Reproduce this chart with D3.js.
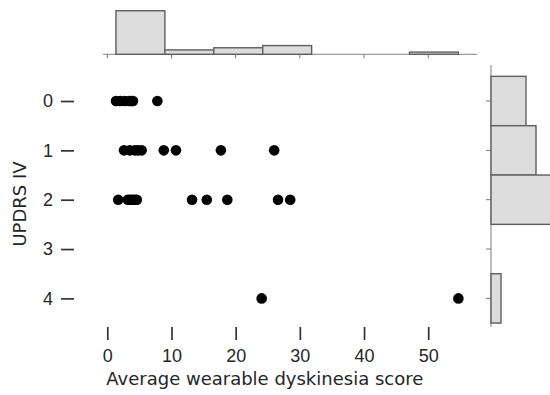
<!DOCTYPE html>
<html>
<head>
<meta charset="utf-8">
<script src="https://cdn.jsdelivr.net/npm/d3@7"></script>
<style>
  html, body { margin: 0; padding: 0; background: #fff; }
  svg { display: block; font-family: "DejaVu Sans", sans-serif; }
</style>
</head>
<body>
<svg id="chart" width="550" height="395"></svg>
<script>
// UPDRS IV score levels and the tick values of both axes
const updrsLevels = [0, 1, 2, 3, 4];
const scoreTicks = [0, 10, 20, 30, 40, 50];

// Average wearable dyskinesia score of each subject, grouped by UPDRS IV level
const scoresUpdrs0 = [1.35, 2.0, 2.7, 3.4, 3.8, 4.0, 7.8];
const scoresUpdrs1 = [2.6, 3.5, 4.3, 4.8, 5.35, 8.8, 10.7, 17.7, 26.0];
const scoresUpdrs2 = [1.7, 3.2, 3.5, 3.8, 4.1, 4.4, 4.6, 13.2, 15.5, 18.7, 26.6, 28.5];
const scoresUpdrs3 = [];
const scoresUpdrs4 = [24.05, 54.7];

// Marginal histogram counts
const scoreBinCount = 7;
const scoreHistCounts = [20, 2, 3, 4, 0, 0, 1];
const updrsHistCounts = [7, 9, 12, 0, 2];

const groups = [scoresUpdrs0, scoresUpdrs1, scoresUpdrs2, scoresUpdrs3, scoresUpdrs4];
const points = groups.flatMap((g, level) => g.map(score => ({ score, level })));

const svg = d3.select("#chart");
const font = "18px";
const textColor = "#262626";
const tickColor = "#333";
const histFill = "#dcdcdc";
const histStroke = "#5e5e5e";

// Joint plot scales
const x = d3.scaleLinear().domain([-0.67, 57.6]).range([103, 477]);
const y = d3.scaleLinear().domain([-0.73, 4.58]).range([65, 327]);

// --- main scatter ---
svg.append("g")
  .selectAll("circle")
  .data(points)
  .join("circle")
  .attr("cx", d => x(d.score))
  .attr("cy", d => y(d.level))
  .attr("r", 5.3)
  .attr("fill", "#000");

// x axis: detached ticks below the plot
const xAxisG = svg.append("g").attr("transform", "translate(0,327)");
xAxisG.call(d3.axisBottom(x).tickValues(scoreTicks).tickSize(13).tickPadding(9).tickFormat(d3.format("d")));
xAxisG.select(".domain").remove();
xAxisG.selectAll(".tick line").attr("stroke", tickColor).attr("stroke-width", 1.7);
xAxisG.selectAll(".tick text").attr("fill", textColor).style("font-size", font);

// y axis: detached ticks left of the plot
const yAxisG = svg.append("g").attr("transform", "translate(74,0)");
yAxisG.call(d3.axisLeft(y).tickValues(updrsLevels).tickSize(13).tickPadding(8).tickFormat(d3.format("d")));
yAxisG.select(".domain").remove();
yAxisG.selectAll(".tick line").attr("stroke", tickColor).attr("stroke-width", 1.7);
yAxisG.selectAll(".tick text").attr("fill", textColor).style("font-size", font);

// axis titles
svg.append("text")
  .attr("x", x(0) - 1)
  .attr("y", 385)
  .attr("fill", textColor)
  .style("font-size", font)
  .text("Average wearable dyskinesia score");

svg.append("text")
  .attr("transform", `translate(25.5,204) rotate(-90)`)
  .attr("text-anchor", "middle")
  .attr("fill", textColor)
  .style("font-size", font)
  .text("UPDRS IV");

// --- top marginal histogram ---
const [scoreMin, scoreMax] = d3.extent(points, d => d.score);
const binWidth = (scoreMax - scoreMin) / scoreBinCount;
const scoreBins = scoreHistCounts.map((count, i) => ({
  x0: scoreMin + i * binWidth,
  x1: scoreMin + (i + 1) * binWidth,
  count
}));
const topBase = 54.3;
const hTop = d3.scaleLinear().domain([0, 20]).range([topBase, 10.7]);

svg.append("line")
  .attr("x1", x.range()[0]).attr("x2", x.range()[1])
  .attr("y1", topBase).attr("y2", topBase)
  .attr("stroke", "#9a9a9a").attr("stroke-width", 1.3);

svg.append("g")
  .selectAll("line")
  .data(scoreTicks)
  .join("line")
  .attr("x1", d => x(d)).attr("x2", d => x(d))
  .attr("y1", topBase).attr("y2", topBase + 4)
  .attr("stroke", "#777").attr("stroke-width", 1);

svg.append("g")
  .selectAll("rect")
  .data(scoreBins.filter(b => b.count > 0))
  .join("rect")
  .attr("x", d => x(d.x0))
  .attr("y", d => hTop(d.count))
  .attr("width", d => x(d.x1) - x(d.x0))
  .attr("height", d => topBase - hTop(d.count))
  .attr("fill", histFill)
  .attr("stroke", histStroke)
  .attr("stroke-width", 1.4);

// --- right marginal histogram ---
const rightBase = 491;
const wRight = d3.scaleLinear().domain([0, 7]).range([rightBase, rightBase + 35]);

svg.append("line")
  .attr("x1", rightBase).attr("x2", rightBase)
  .attr("y1", y.range()[0]).attr("y2", y.range()[1])
  .attr("stroke", "#9a9a9a").attr("stroke-width", 1.3);

svg.append("g")
  .selectAll("line")
  .data(updrsLevels)
  .join("line")
  .attr("x1", rightBase - 5).attr("x2", rightBase)
  .attr("y1", d => y(d)).attr("y2", d => y(d))
  .attr("stroke", "#777").attr("stroke-width", 1);

svg.append("g")
  .selectAll("rect")
  .data(updrsLevels.map((lvl, i) => ({ lvl, count: updrsHistCounts[i] })).filter(d => d.count > 0))
  .join("rect")
  .attr("x", rightBase)
  .attr("y", d => y(d.lvl - 0.5))
  .attr("width", d => wRight(d.count) - rightBase)
  .attr("height", d => y(d.lvl + 0.5) - y(d.lvl - 0.5))
  .attr("fill", histFill)
  .attr("stroke", histStroke)
  .attr("stroke-width", 1.4);
</script>
</body>
</html>
